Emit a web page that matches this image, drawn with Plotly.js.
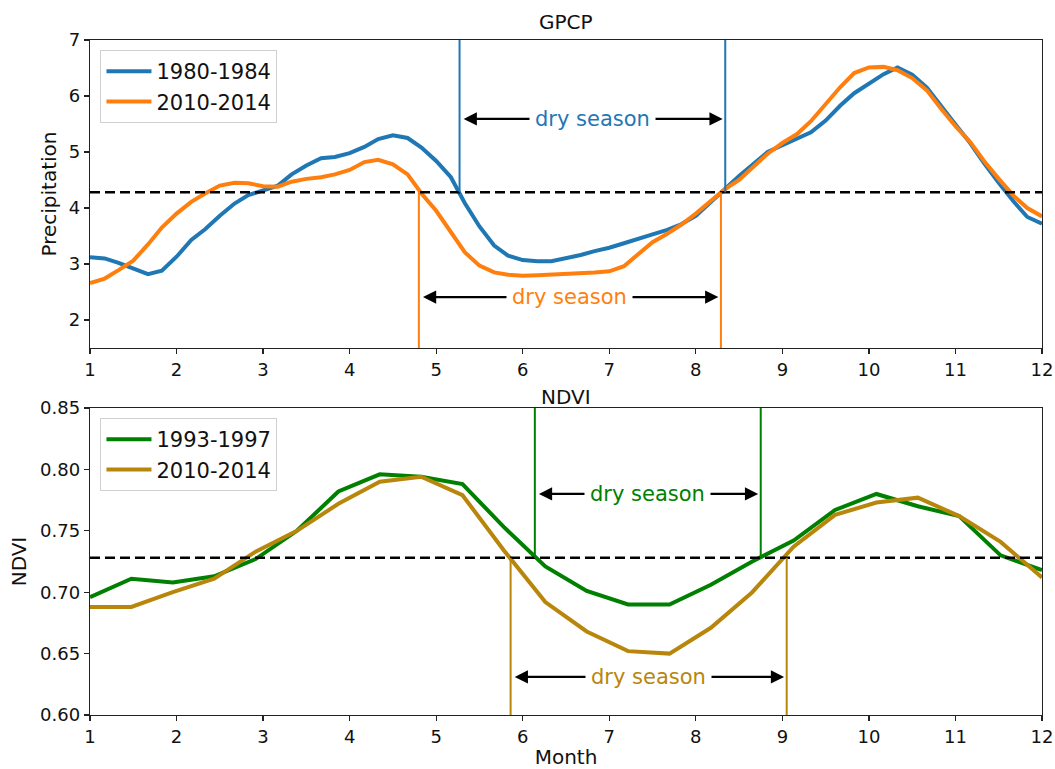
<!DOCTYPE html>
<html>
<head>
<meta charset="utf-8">
<script src="https://cdn.plot.ly/plotly-3.0.1.min.js"></script>
<style>html,body{margin:0;padding:0;background:#fff;}#chart{width:1055px;height:769px;}</style>
</head>
<body>
<div id="chart"></div>
<script>
// ---------- GPCP precipitation (top panel) ----------
const gpcpMonths = [1.00,1.17,1.33,1.50,1.67,1.83,2.00,2.17,2.33,2.50,2.67,2.83,3.00,3.17,3.33,3.50,3.67,3.83,
  4.00,4.17,4.33,4.50,4.67,4.83,5.00,5.17,5.33,5.50,5.67,5.83,6.00,6.17,6.33,6.50,6.67,6.83,7.00,7.17,7.33,7.50,
  7.67,7.83,8.00,8.17,8.33,8.50,8.67,8.83,9.00,9.17,9.33,9.50,9.67,9.83,10.00,10.17,10.33,10.50,10.67,10.83,
  11.00,11.17,11.33,11.50,11.67,11.83,12.00];
const precip1980 = [3.12,3.10,3.02,2.92,2.82,2.88,3.13,3.43,3.62,3.86,4.08,4.23,4.31,4.40,4.60,4.76,4.89,4.91,
  4.98,5.09,5.23,5.30,5.25,5.08,4.84,4.55,4.09,3.67,3.33,3.15,3.07,3.05,3.05,3.10,3.16,3.23,3.29,3.37,3.44,3.53,
  3.61,3.71,3.86,4.11,4.33,4.57,4.79,5.00,5.12,5.23,5.35,5.56,5.83,6.05,6.23,6.39,6.51,6.38,6.15,5.82,
  5.49,5.16,4.80,4.45,4.12,3.84,3.72];
const precip2010 = [2.66,2.74,2.89,3.06,3.35,3.65,3.90,4.11,4.26,4.40,4.45,4.44,4.39,4.38,4.47,4.52,4.55,4.60,
  4.68,4.82,4.86,4.78,4.60,4.26,3.95,3.57,3.21,2.97,2.85,2.81,2.79,2.80,2.81,2.82,2.83,2.85,2.87,2.96,3.17,3.39,
  3.54,3.70,3.90,4.12,4.33,4.50,4.73,4.97,5.16,5.32,5.55,5.86,6.16,6.41,6.51,6.52,6.46,6.32,6.10,5.78,
  5.46,5.18,4.84,4.52,4.22,4.00,3.85];
const precipThreshold = 4.28;
const drySeason1980 = [5.27, 8.34];
const drySeason2010p = [4.80, 8.29];

// ---------- NDVI (bottom panel) ----------
const ndviMonths = [1.000,1.478,1.957,2.435,2.913,3.391,3.870,4.348,4.826,5.304,5.783,6.261,
  6.739,7.217,7.696,8.174,8.652,9.130,9.609,10.087,10.565,11.043,11.522,12.000];
const ndvi1993 = [0.696,0.711,0.708,0.713,0.727,0.750,0.782,0.796,0.794,0.788,0.753,0.721,
  0.701,0.690,0.690,0.706,0.725,0.742,0.767,0.780,0.770,0.762,0.730,0.718];
const ndvi2010 = [0.688,0.688,0.700,0.711,0.733,0.750,0.772,0.790,0.794,0.779,0.734,0.692,
  0.668,0.652,0.650,0.671,0.700,0.737,0.763,0.773,0.777,0.762,0.741,0.712];
const ndviThreshold = 0.728;
const drySeason1993 = [6.14, 8.75];
const drySeason2010n = [5.86, 9.05];

const monthTicks = [1,2,3,4,5,6,7,8,9,10,11,12];

const C_BLUE = '#1f77b4', C_ORANGE = '#ff7f0e', C_GREEN = '#008000', C_GOLD = '#b8860b';
const FONT = 'DejaVu Sans, sans-serif';

const traces = [
  {x: gpcpMonths, y: precip1980, name: '1980-1984', mode: 'lines', line: {color: C_BLUE, width: 4}, xaxis: 'x', yaxis: 'y', legend: 'legend'},
  {x: gpcpMonths, y: precip2010, name: '2010-2014', mode: 'lines', line: {color: C_ORANGE, width: 4}, xaxis: 'x', yaxis: 'y', legend: 'legend'},
  {x: ndviMonths, y: ndvi1993, name: '1993-1997', mode: 'lines', line: {color: C_GREEN, width: 4}, xaxis: 'x2', yaxis: 'y2', legend: 'legend2'},
  {x: ndviMonths, y: ndvi2010, name: '2010-2014', mode: 'lines', line: {color: C_GOLD, width: 4}, xaxis: 'x2', yaxis: 'y2', legend: 'legend2'}
];

const yTop = [1.5, 7];
const yBot = [0.60, 0.85];

function vline(xv, y0, y1, xr, yr, color) {
  return {type: 'line', xref: xr, yref: yr, x0: xv, x1: xv, y0: y0, y1: y1, line: {color: color, width: 2}, layer: 'above'};
}
function hdash(yv, xr, yr) {
  return {type: 'line', xref: xr + ' domain', yref: yr, x0: 0, x1: 1, y0: yv, y1: yv, line: {color: 'black', width: 2.5, dash: '10px,5px'}, layer: 'above'};
}
const shapes = [
  hdash(precipThreshold, 'x', 'y'),
  hdash(ndviThreshold, 'x2', 'y2'),
  vline(drySeason1980[0], precipThreshold, yTop[1], 'x', 'y', C_BLUE),
  vline(drySeason1980[1], precipThreshold, yTop[1], 'x', 'y', C_BLUE),
  vline(drySeason2010p[0], yTop[0], precipThreshold, 'x', 'y', C_ORANGE),
  vline(drySeason2010p[1], yTop[0], precipThreshold, 'x', 'y', C_ORANGE),
  vline(drySeason1993[0], ndviThreshold, yBot[1], 'x2', 'y2', C_GREEN),
  vline(drySeason1993[1], ndviThreshold, yBot[1], 'x2', 'y2', C_GREEN),
  vline(drySeason2010n[0], yBot[0], ndviThreshold, 'x2', 'y2', C_GOLD),
  vline(drySeason2010n[1], yBot[0], ndviThreshold, 'x2', 'y2', C_GOLD)
];

function dryArrow(range, yv, xr, yr, color) {
  const mid = (range[0] + range[1]) / 2;
  return [
    {xref: xr, yref: yr, axref: xr, ayref: yr, x: range[1] - 0.03, y: yv, ax: range[0] + 0.03, ay: yv, text: '',
     showarrow: true, arrowhead: 2, arrowside: 'end+start', arrowsize: 1.2, arrowwidth: 2.2, arrowcolor: 'black',
     standoff: 0, startstandoff: 0},
    {xref: xr, yref: yr, x: mid, y: yv, text: 'dry season', showarrow: false,
     font: {family: FONT, size: 21, color: color}, bgcolor: 'white', borderpad: 5}
  ];
}

const annotations = [
  {xref: 'paper', yref: 'paper', x: 0.5, y: 1.027, text: 'GPCP', showarrow: false, yanchor: 'middle', font: {family: FONT, size: 20, color: '#111'}},
  {xref: 'paper', yref: 'paper', x: 0.5, y: 0.471, text: 'NDVI', showarrow: false, yanchor: 'middle', font: {family: FONT, size: 20, color: '#111'}},
  ...dryArrow(drySeason1980, 5.59, 'x', 'y', C_BLUE),
  ...dryArrow(drySeason2010p, 2.41, 'x', 'y', C_ORANGE),
  ...dryArrow(drySeason1993, 0.780, 'x2', 'y2', C_GREEN),
  ...dryArrow(drySeason2010n, 0.631, 'x2', 'y2', C_GOLD)
];

const axisCommon = {
  showline: true, mirror: true, linecolor: '#222', linewidth: 1.3,
  ticks: 'outside', ticklen: 5, tickcolor: '#222', tickwidth: 1.2,
  showgrid: false, zeroline: false,
  tickfont: {family: FONT, size: 18, color: '#111'}
};

const legendCommon = {xanchor: 'left', yanchor: 'top', bgcolor: 'white', bordercolor: '#d0d0d0', borderwidth: 1,
  itemwidth: 45, font: {family: FONT, size: 21, color: '#111'}};

const layout = {
  width: 1055, height: 769,
  margin: {l: 90, r: 13, t: 40, b: 54},
  paper_bgcolor: 'white', plot_bgcolor: 'white',
  font: {family: FONT, color: '#111'},
  showlegend: true,
  xaxis: Object.assign({}, axisCommon, {domain: [0, 1], range: [1, 12], tickvals: monthTicks, anchor: 'y'}),
  yaxis: Object.assign({}, axisCommon, {domain: [0.5437, 1], range: yTop, tickvals: [2,3,4,5,6,7], anchor: 'x',
    title: {text: 'Precipitation', font: {family: FONT, size: 20}, standoff: 6}}),
  xaxis2: Object.assign({}, axisCommon, {domain: [0, 1], range: [1, 12], tickvals: monthTicks, anchor: 'y2',
    title: {text: 'Month', font: {family: FONT, size: 20}, standoff: 6}}),
  yaxis2: Object.assign({}, axisCommon, {domain: [0, 0.4548], range: yBot, tickvals: [0.60,0.65,0.70,0.75,0.80,0.85], tickformat: '.2f', anchor: 'x2',
    title: {text: 'NDVI', font: {family: FONT, size: 20}, standoff: 8}}),
  legend: Object.assign({}, legendCommon, {x: 0.011, y: 0.985}),
  legend2: Object.assign({}, legendCommon, {x: 0.011, y: 0.44}),
  shapes: shapes,
  annotations: annotations
};

Plotly.newPlot('chart', traces, layout, {displayModeBar: false, staticPlot: true});
</script>
</body>
</html>
